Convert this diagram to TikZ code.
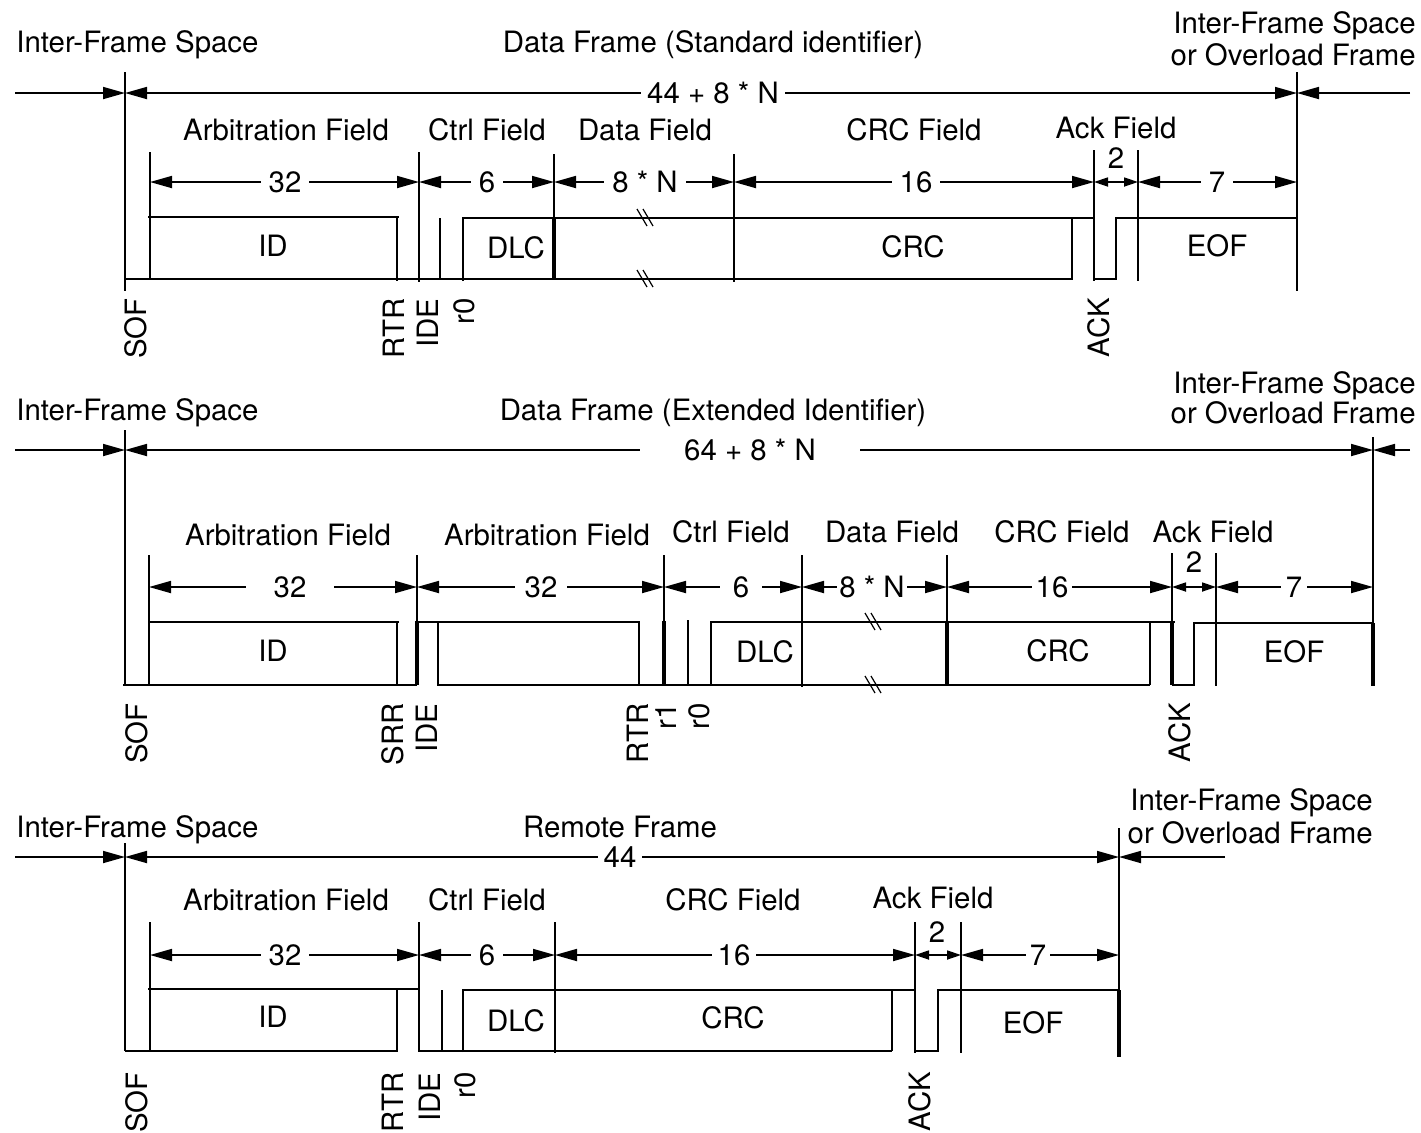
\documentclass[tikz,border=0pt]{standalone}
\usepackage{fontspec}
\setmainfont{TeX Gyre Heros}
\usetikzlibrary{arrows.meta}
\newcommand\diagfont{\fontsize{14.7}{17}\selectfont}
\tikzset{
 ln/.style={line width=0.85pt},
 thk/.style={line width=1.8pt},
 dimarrow/.style={line width=0.85pt,{Triangle[length=11pt,width=6pt]}-{Triangle[length=11pt,width=6pt]}},
 onearrow/.style={line width=0.85pt,-{Triangle[length=11pt,width=6pt]}},
 smallarrow/.style={line width=0.85pt,{Triangle[length=7pt,width=4.5pt]}-{Triangle[length=7pt,width=4.5pt]}},
 lbl/.style={fill=white,inner xsep=4pt,inner ysep=1pt,font=\diagfont},
 txt/.style={font=\diagfont,inner sep=0pt},
 vlab/.style={font=\diagfont,inner sep=0pt,rotate=90,anchor=east},
 brk/.pic={\draw[line width=0.6pt] (-8,-9) -- (2,8) (-2,-9) -- (8,8);}
}
\begin{document}
\begin{tikzpicture}[x=0.5pt,y=-0.5pt]
\useasboundingbox[fill=white] (0,0) rectangle (1421,1132);

% ================= Frame 1 =================
\node[txt,anchor=base west] (ifs1) at (16,52) {Inter-Frame Space};
\node[txt,anchor=base] (df1) at (713,52) {Data Frame (Standard identifier)};
\node[txt,anchor=base east] (ovl1a) at (1416,33) {Inter-Frame Space};
\node[txt,anchor=base east] (ovl1b) at (1416,65) {or Overload Frame};

\draw[onearrow] (15,93) -- (125,93);
\draw[dimarrow] (125,93) -- (1297,93);
\node[lbl,inner xsep=3pt] (len1) at (713,93) {44 + 8 * N};
\draw[onearrow] (1410,93) -- (1297,93);

\node[txt,anchor=base] (arb1) at (286,140) {Arbitration Field};
\node[txt,anchor=base] (ctl1) at (487,140) {Ctrl Field};
\node[txt,anchor=base] (dat1) at (645,140) {Data Field};
\node[txt,anchor=base] (crf1) at (914,140) {CRC Field};
\node[txt,anchor=base] (ack1) at (1116,138) {Ack Field};

\draw[dimarrow] (150,182) -- (419,182);
\node[lbl] (n32a) at (285,182) {32};
\draw[dimarrow] (419,182) -- (554,182);
\node[lbl] (n6a) at (487,182) {6};
\draw[dimarrow] (554,182) -- (734,182);
\node[lbl] (n8a) at (645,182) {8 * N};
\draw[dimarrow] (734,182) -- (1094,182);
\node[lbl] (n16a) at (916,182) {16};
\draw[smallarrow] (1094,182) -- (1138,182);
\node[txt] (n2a) at (1116,158) {2};
\draw[dimarrow] (1138,182) -- (1297,182);
\node[lbl] (n7a) at (1217,182) {7};

\draw[ln] (125,72) -- (125,291);
\draw[ln] (125,279) -- (1073,279);
\draw[ln] (150,152) -- (150,279);
\draw[ln] (148,217) -- (399,217);
\draw[ln] (397,217) -- (397,281);
\draw[ln] (419,152) -- (419,282);
\draw[ln] (440,218) -- (440,279);
\draw[ln] (463,281) -- (463,218) -- (1094,218);
\draw[ln] (554,154) -- (554,279);
\draw[thk] (554,218) -- (554,279);
\draw[ln] (734,154) -- (734,282);
\draw[ln] (1072,217) -- (1072,279);
\draw[ln] (1094,150) -- (1094,281);
\draw[ln] (1094,279) -- (1116,279) -- (1116,218) -- (1297,218);
\draw[ln] (1138,150) -- (1138,281);
\draw[ln] (1297,72) -- (1297,291);
\pic at (645,218) {brk};
\pic at (645,279) {brk};

\node[txt] (id1) at (273,246) {ID};
\node[txt] (dlc1) at (516,248) {DLC};
\node[txt] (crc1) at (913,247) {CRC};
\node[txt] (eof1) at (1217,246) {EOF};

\node[vlab] (sof1) at (136,298) {SOF};
\node[vlab] (rtr1) at (394,298) {RTR};
\node[vlab] (ide1) at (428,298) {IDE};
\node[vlab] (r01) at (464,298) {r0};
\node[vlab] (ak1) at (1099,298) {ACK};

% ================= Frame 2 =================
\node[txt,anchor=base west] (ifs2) at (16,420) {Inter-Frame Space};
\node[txt,anchor=base] (df2) at (713,420) {Data Frame (Extended Identifier)};
\node[txt,anchor=base east] (ovl2a) at (1416,393) {Inter-Frame Space};
\node[txt,anchor=base east] (ovl2b) at (1416,423) {or Overload Frame};

\draw[onearrow] (15,450) -- (125,450);
\draw[dimarrow] (125,450) -- (1373,450);
\node[lbl,inner xsep=22pt] (len2) at (750,450) {64 + 8 * N};
\draw[onearrow] (1410,450) -- (1373,450);

\node[txt,anchor=base] (arb2a) at (288,545) {Arbitration Field};
\node[txt,anchor=base] (arb2b) at (547,545) {Arbitration Field};
\node[txt,anchor=base] (ctl2) at (731,542) {Ctrl Field};
\node[txt,anchor=base] (dat2) at (892,542) {Data Field};
\node[txt,anchor=base] (crf2) at (1062,542) {CRC Field};
\node[txt,anchor=base] (ack2) at (1213,542) {Ack Field};

\draw[dimarrow] (149,587) -- (417,587);
\node[lbl,inner xsep=14pt] (n32b) at (290,587) {32};
\draw[dimarrow] (417,587) -- (664,587);
\node[lbl,inner xsep=5pt] (n32c) at (541,587) {32};
\draw[dimarrow] (664,587) -- (802,587);
\node[lbl,inner xsep=6.5pt] (n6b) at (741,587) {6};
\draw[dimarrow] (802,587) -- (947,587);
\node[lbl,inner xsep=1pt] (n8b) at (872,587) {8 * N};
\draw[dimarrow] (947,587) -- (1172,587);
\node[lbl,inner xsep=2pt] (n16b) at (1052,587) {16};
\draw[smallarrow] (1172,587) -- (1216,587);
\node[txt] (n2b) at (1194,562) {2};
\draw[dimarrow] (1216,587) -- (1373,587);
\node[lbl,inner xsep=2.5pt] (n7b) at (1294,587) {7};

\draw[ln] (125,430) -- (125,685);
\draw[ln] (123,685) -- (417,685);
\draw[ln] (149,555) -- (149,685);
\draw[ln] (148,622) -- (399,622);
\draw[ln] (397,622) -- (397,685);
\draw[ln] (417,555) -- (417,685);
\draw[thk] (417,622) -- (417,685);
\draw[ln] (415,622) -- (640,622);
\draw[ln] (438,622) -- (438,685) -- (1150,685);
\draw[ln] (639,622) -- (639,685);
\draw[ln] (664,555) -- (664,685);
\draw[thk] (664,621) -- (664,685);
\draw[ln] (688,620) -- (688,685);
\draw[ln] (711,686) -- (711,622) -- (1175,622);
\draw[ln] (802,555) -- (802,687);
\draw[ln] (947,555) -- (947,686);
\draw[thk] (947,622) -- (947,686);
\draw[ln] (1150,622) -- (1150,685);
\draw[ln] (1172,553) -- (1172,685);
\draw[thk] (1172,622) -- (1172,685);
\draw[ln] (1172,685) -- (1194,685) -- (1194,623) -- (1374,623);
\draw[ln] (1216,553) -- (1216,686);
\draw[ln] (1373,437) -- (1373,686);
\draw[thk] (1373,623) -- (1373,686);
\pic at (873,622) {brk};
\pic at (873,685) {brk};

\node[txt] (id2) at (273,651) {ID};
\node[txt] (dlc2) at (765,652) {DLC};
\node[txt] (crc2) at (1058,651) {CRC};
\node[txt] (eof2) at (1294,652) {EOF};

\node[vlab] (sof2) at (137,703) {SOF};
\node[vlab] (srr2) at (393,703) {SRR};
\node[vlab] (ide2) at (427,703) {IDE};
\node[vlab] (rtr2) at (638,703) {RTR};
\node[vlab] (r12) at (666,703) {r1};
\node[vlab] (r02) at (699,703) {r0};
\node[vlab] (ak2) at (1180,703) {ACK};

% ================= Frame 3 =================
\node[txt,anchor=base west] (ifs3) at (16,837) {Inter-Frame Space};
\node[txt,anchor=base] (rf3) at (620,837) {Remote Frame};
\node[txt,anchor=base east] (ovl3a) at (1373,810) {Inter-Frame Space};
\node[txt,anchor=base east] (ovl3b) at (1373,843) {or Overload Frame};

\draw[onearrow] (15,857) -- (125,857);
\draw[dimarrow] (125,857) -- (1119,857);
\node[lbl,inner xsep=3pt] (len3) at (620,857) {44};
\draw[onearrow] (1225,857) -- (1119,857);

\node[txt,anchor=base] (arb3) at (286,910) {Arbitration Field};
\node[txt,anchor=base] (ctl3) at (487,910) {Ctrl Field};
\node[txt,anchor=base] (crf3) at (733,910) {CRC Field};
\node[txt,anchor=base] (ack3) at (933,908) {Ack Field};

\draw[dimarrow] (150,955) -- (419,955);
\node[lbl] (n32d) at (285,955) {32};
\draw[dimarrow] (419,955) -- (555,955);
\node[lbl] (n6c) at (487,955) {6};
\draw[dimarrow] (555,955) -- (915,955);
\node[lbl,inner xsep=3pt] (n16c) at (734,955) {16};
\draw[smallarrow] (915,955) -- (961,955);
\node[txt] (n2c) at (937,932) {2};
\draw[dimarrow] (961,955) -- (1119,955);
\node[lbl,inner xsep=2pt] (n7c) at (1038,955) {7};

\draw[ln] (125,843) -- (125,1051);
\draw[ln] (125,1051) -- (397,1051);
\draw[ln] (150,922) -- (150,1051);
\draw[ln] (148,989) -- (419,989);
\draw[ln] (397,989) -- (397,1052);
\draw[ln] (419,922) -- (419,1052);
\draw[ln] (419,1051) -- (892,1051);
\draw[ln] (442,990) -- (442,1051);
\draw[ln] (463,1052) -- (463,990) -- (915,990);
\draw[ln] (555,922) -- (555,1053);
\draw[ln] (892,990) -- (892,1051);
\draw[ln] (915,922) -- (915,1053);
\draw[ln] (915,1051) -- (938,1051) -- (938,990) -- (1119,990);
\draw[ln] (961,922) -- (961,1053);
\draw[ln] (1119,828) -- (1119,1057);
\draw[thk] (1119,990) -- (1119,1057);

\node[txt] (id3) at (273,1017) {ID};
\node[txt] (dlc3) at (516,1021) {DLC};
\node[txt] (crc3) at (733,1018) {CRC};
\node[txt] (eof3) at (1033,1023) {EOF};

\node[vlab] (sof3) at (137,1072) {SOF};
\node[vlab] (rtr3) at (393,1072) {RTR};
\node[vlab] (ide3) at (430,1072) {IDE};
\node[vlab] (r03) at (465,1072) {r0};
\node[vlab] (ak3) at (920,1072) {ACK};
\end{tikzpicture}
\end{document}
